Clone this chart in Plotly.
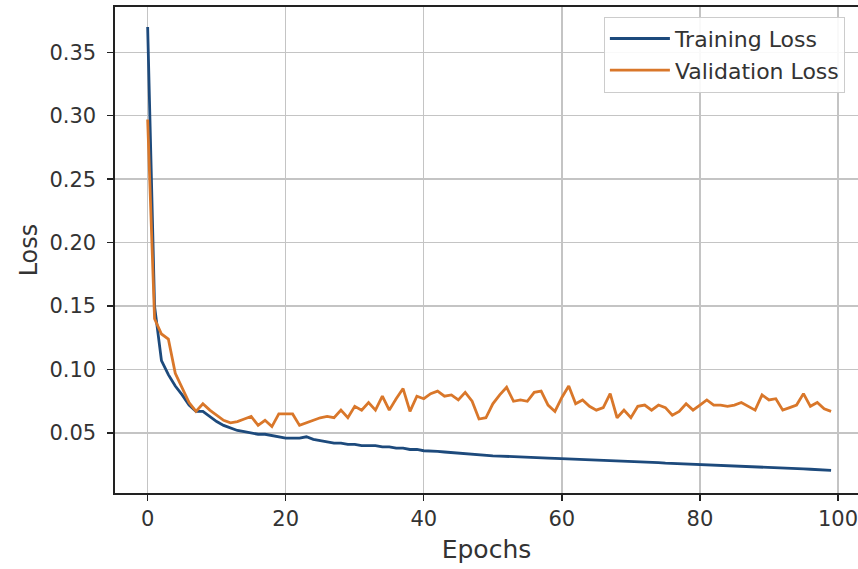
import plotly.graph_objects as go

epochs = list(range(100))

training_loss = [
    0.370, 0.150, 0.107, 0.096, 0.087, 0.080, 0.072, 0.067, 0.067, 0.063,
    0.059, 0.056, 0.054, 0.052, 0.051, 0.050, 0.049, 0.049, 0.048, 0.047,
    0.046, 0.046, 0.046, 0.047, 0.045, 0.044, 0.043, 0.042, 0.042, 0.041,
    0.041, 0.040, 0.040, 0.040, 0.039, 0.039, 0.038, 0.038, 0.037, 0.037,
    0.036, 0.036, 0.0355, 0.035, 0.0345, 0.034, 0.0335, 0.033, 0.0328, 0.0325,
    0.032, 0.0318, 0.0315, 0.0313, 0.031, 0.0308, 0.0306, 0.0304, 0.0302, 0.030,
    0.0298, 0.0296, 0.0293, 0.0291, 0.0289, 0.0287, 0.0284, 0.0282, 0.028, 0.0277,
    0.0275, 0.0273, 0.0271, 0.0268, 0.0266, 0.0262, 0.026, 0.0257, 0.0254, 0.0252,
    0.025, 0.0248, 0.0246, 0.0244, 0.0242, 0.024, 0.0238, 0.0236, 0.0233, 0.0231,
    0.023, 0.0227, 0.0224, 0.0222, 0.022, 0.0217, 0.0214, 0.0212, 0.0208, 0.0205,
]

validation_loss = [
    0.297, 0.140, 0.128, 0.124, 0.097, 0.085, 0.074, 0.067, 0.073, 0.068,
    0.064, 0.060, 0.058, 0.059, 0.061, 0.063, 0.056, 0.060, 0.055, 0.065,
    0.065, 0.065, 0.056, 0.058, 0.060, 0.062, 0.063, 0.062, 0.068, 0.062,
    0.071, 0.068, 0.074, 0.068, 0.079, 0.068, 0.077, 0.085, 0.067, 0.079,
    0.077, 0.081, 0.083, 0.079, 0.080, 0.076, 0.082, 0.075, 0.061, 0.062,
    0.073, 0.080, 0.086, 0.075, 0.076, 0.075, 0.082, 0.083, 0.072, 0.067,
    0.078, 0.087, 0.073, 0.076, 0.071, 0.068, 0.070, 0.081, 0.062, 0.068,
    0.062, 0.071, 0.072, 0.068, 0.072, 0.070, 0.064, 0.067, 0.073, 0.068,
    0.072, 0.076, 0.072, 0.072, 0.071, 0.072, 0.074, 0.071, 0.068, 0.080,
    0.076, 0.077, 0.068, 0.070, 0.072, 0.081, 0.071, 0.074, 0.069, 0.067,
]

x_ticks = [0, 20, 40, 60, 80, 100]
y_ticks = [0.05, 0.10, 0.15, 0.20, 0.25, 0.30, 0.35]
y_tick_labels = ["0.05", "0.10", "0.15", "0.20", "0.25", "0.30", "0.35"]

FONT = "DejaVu Sans"
TXT = "#333333"

fig = go.Figure()
fig.add_trace(go.Scatter(x=epochs, y=training_loss, mode="lines", name="Training Loss",
                         line=dict(color="#1d4a7c", width=2.8)))
fig.add_trace(go.Scatter(x=epochs, y=validation_loss, mode="lines", name="Validation Loss",
                         line=dict(color="#d9772a", width=2.8)))

fig.update_layout(
    width=858, height=569,
    margin=dict(l=115, r=0, t=7, b=76, autoexpand=False),
    paper_bgcolor="white", plot_bgcolor="white",
    font=dict(family=FONT, color=TXT),
    showlegend=True,
    hovermode=False,
    legend=dict(x=0.658, y=0.98, xanchor="left", yanchor="top",
                bgcolor="rgba(255,255,255,0.9)", bordercolor="#cccccc", borderwidth=1,
                font=dict(family=FONT, size=22, color=TXT),
                itemwidth=60, tracegroupgap=0),
)

fig.update_xaxes(
    range=[-4.73, 102.9], tickvals=x_ticks, ticktext=[str(v) for v in x_ticks],
    showgrid=True, gridcolor="#c4c4c4", gridwidth=1.4,
    showline=True, linecolor="#222222", linewidth=1.6, mirror=True,
    ticks="outside", ticklen=6, tickcolor="#222222", tickwidth=1.4,
    tickfont=dict(family=FONT, size=21, color=TXT),
    ticklabeloverflow="allow",
    title=dict(text="Epochs", font=dict(family=FONT, size=25, color=TXT), standoff=11),
    zeroline=False, automargin=False,
)
fig.update_yaxes(
    range=[0.0027, 0.3857], tickvals=y_ticks, ticktext=y_tick_labels,
    showgrid=True, gridcolor="#c4c4c4", gridwidth=1.4,
    showline=True, linecolor="#222222", linewidth=1.6, mirror=False,
    ticks="outside", ticklen=6, tickcolor="#222222", tickwidth=1.4,
    tickfont=dict(family=FONT, size=21, color=TXT),
    ticklabelstandoff=7,
    title=dict(text="Loss", font=dict(family=FONT, size=24, color=TXT), standoff=5),
    zeroline=False, automargin=False,
)

# remove the default 8px page margin so the figure fills the window exactly
fig.write_html("out.html",
               config={"displayModeBar": False, "staticPlot": True},
               post_script="document.body.style.margin='0';document.body.style.overflow='hidden';")
